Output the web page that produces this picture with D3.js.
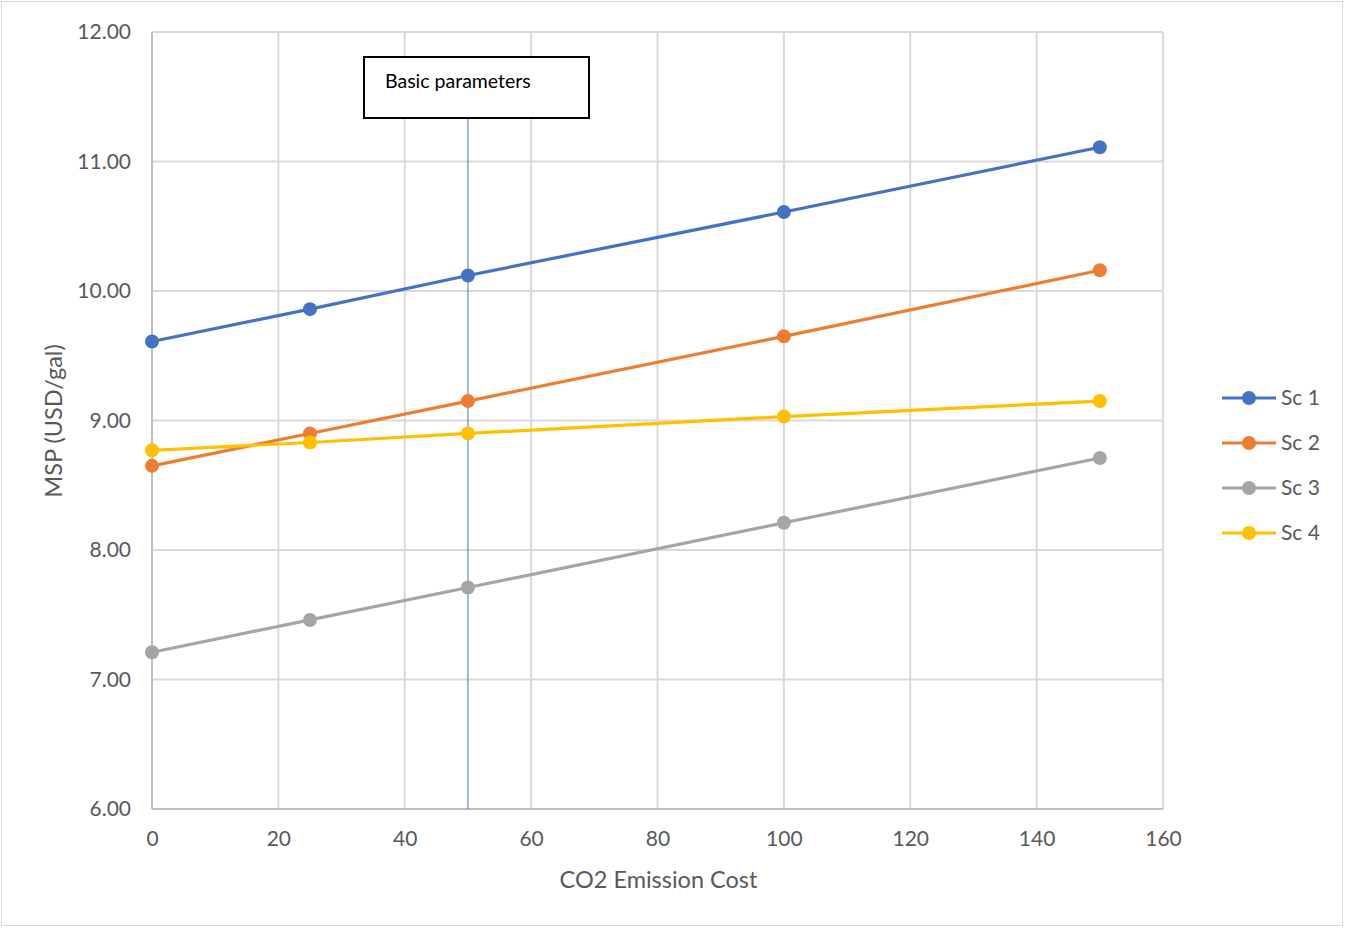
<!DOCTYPE html>
<html><head><meta charset="utf-8">
<script src="https://cdn.jsdelivr.net/npm/d3@7"></script>
<style>body{margin:0;background:#fff;} svg{display:block;}</style>
</head><body>
<svg id="c" width="1345" height="928"></svg>
<script>
const xValues = [0, 25, 50, 100, 150];
const seriesNames = ["Sc 1", "Sc 2", "Sc 3", "Sc 4"];
const sc1 = [9.61, 9.86, 10.12, 10.61, 11.11];
const sc2 = [8.65, 8.90, 9.15, 9.65, 10.16];
const sc3 = [7.21, 7.46, 7.71, 8.21, 8.71];
const sc4 = [8.77, 8.83, 8.90, 9.03, 9.15];
const colors = ["#4472C4", "#ED7D31", "#A5A5A5", "#FFC000"];
const xTicks = [0, 20, 40, 60, 80, 100, 120, 140, 160];
const yTicks = [6, 7, 8, 9, 10, 11, 12];
const annotationText = "Basic parameters";
const annotationX = 50;

const font = "Lato, 'Open Sans', sans-serif";
const svg = d3.select("#c");
svg.append("rect").attr("x", 1.5).attr("y", 1.5).attr("width", 1341).attr("height", 924)
  .attr("fill", "#fff").attr("stroke", "#d9d9d9").attr("stroke-width", 1);

const L = 152, R = 1163, T = 32, B = 809;
const x = d3.scaleLinear().domain([0, 160]).range([L, R]);
const y = d3.scaleLinear().domain([6, 12]).range([B, T]);

// gridlines
svg.append("g").selectAll("line.h").data(yTicks).join("line")
  .attr("x1", L).attr("x2", R).attr("y1", d => y(d)).attr("y2", d => y(d))
  .attr("stroke", "#d9d9d9").attr("stroke-width", 2);
svg.append("g").selectAll("line.v").data(xTicks).join("line")
  .attr("y1", T).attr("y2", B).attr("x1", d => x(d)).attr("x2", d => x(d))
  .attr("stroke", "#d9d9d9").attr("stroke-width", 2);
// axis lines
svg.append("line").attr("x1", L).attr("x2", L).attr("y1", T).attr("y2", B).attr("stroke", "#bfbfbf").attr("stroke-width", 2);
svg.append("line").attr("x1", L).attr("x2", R).attr("y1", B).attr("y2", B).attr("stroke", "#bfbfbf").attr("stroke-width", 2);

// axes via d3 axis (labels only)
const yAxis = svg.append("g").attr("transform", `translate(${L},0)`)
  .call(d3.axisLeft(y).tickValues(yTicks).tickFormat(d3.format(".2f")).tickSize(0).tickPadding(21));
yAxis.select(".domain").remove();
yAxis.selectAll("text").attr("font-family", font).attr("font-size", 21).attr("fill", "#595959");

const xAxis = svg.append("g").attr("transform", `translate(0,${B})`)
  .call(d3.axisBottom(x).tickValues(xTicks).tickFormat(d3.format("d")).tickSize(0).tickPadding(22));
xAxis.select(".domain").remove();
xAxis.selectAll("text").attr("font-family", font).attr("font-size", 21).attr("fill", "#595959");

// axis titles
svg.append("text").attr("x", (L + R) / 2 + 1).attr("y", 888).attr("text-anchor", "middle")
  .attr("font-family", font).attr("font-size", 23.5).attr("fill", "#595959").text("CO2 Emission Cost");
svg.append("text").attr("transform", "translate(62,421) rotate(-90)").attr("text-anchor", "middle")
  .attr("font-family", font).attr("font-size", 23.5).attr("fill", "#595959").text("MSP (USD/gal)");

// annotation vertical line
svg.append("line").attr("x1", x(annotationX)).attr("x2", x(annotationX)).attr("y1", 118).attr("y2", B)
  .attr("stroke", "#4472C4").attr("stroke-width", 1);

// series
const allSeries = [sc1, sc2, sc3, sc4];
const line = d3.line().x((d, i) => x(xValues[i])).y(d => y(d));
allSeries.forEach((s, k) => {
  const g = svg.append("g");
  g.append("path").attr("d", line(s)).attr("fill", "none").attr("stroke", colors[k]).attr("stroke-width", 3.2);
  g.selectAll("circle").data(s).join("circle")
    .attr("cx", (d, i) => x(xValues[i])).attr("cy", d => y(d)).attr("r", 7).attr("fill", colors[k]);
});

// annotation box
svg.append("rect").attr("x", 364).attr("y", 57).attr("width", 225).attr("height", 61)
  .attr("fill", "#fff").attr("stroke", "#000").attr("stroke-width", 2);
svg.append("text").attr("x", 385).attr("y", 88).attr("font-family", font).attr("font-size", 19.5)
  .attr("fill", "#000").text(annotationText);

// legend
const lg = svg.append("g");
seriesNames.forEach((n, k) => {
  const yy = 398 + k * 45;
  lg.append("line").attr("x1", 1222).attr("x2", 1276).attr("y1", yy).attr("y2", yy).attr("stroke", colors[k]).attr("stroke-width", 3.2);
  lg.append("circle").attr("cx", 1249).attr("cy", yy).attr("r", 7).attr("fill", colors[k]);
  lg.append("text").attr("x", 1281).attr("y", yy + 7).attr("font-family", font).attr("font-size", 21).attr("fill", "#595959").text(n);
});
</script>
</body></html>
